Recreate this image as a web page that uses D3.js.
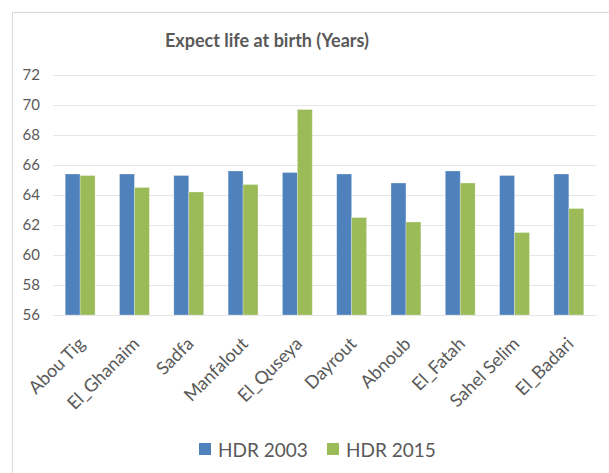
<!DOCTYPE html>
<html>
<head>
<meta charset="utf-8">
<script src="https://cdn.jsdelivr.net/npm/d3@7"></script>
<style>
  body { margin: 0; background: #fff; }
  svg text { font-family: Lato, 'Open Sans', sans-serif; fill: #595959; }
</style>
</head>
<body>
<div id="chart"></div>
<script>
// chart data
const categories = ['Abou Tig', 'El_Ghanaim', 'Sadfa', 'Manfalout', 'El_Quseya',
  'Dayrout', 'Abnoub', 'El_Fatah', 'Sahel Selim', 'El_Badari'];
const seriesNames = ['HDR 2003', 'HDR 2015'];
const hdr2003 = [65.4, 65.4, 65.3, 65.6, 65.5, 65.4, 64.8, 65.6, 65.3, 65.4];
const hdr2015 = [65.3, 64.5, 64.2, 64.7, 69.7, 62.5, 62.2, 64.8, 61.5, 63.1];
const yTicks = [56, 58, 60, 62, 64, 66, 68, 70, 72];

const colors = ['#4f81bd', '#9bbb59'];
const width = 609, height = 473;
const plot = { left: 53, right: 596, top: 75, bottom: 315 };

const svg = d3.select('#chart').append('svg')
  .attr('width', width)
  .attr('height', height);

// chart frame
svg.append('rect')
  .attr('x', 12.5).attr('y', 12.5)
  .attr('width', 620).attr('height', 480)
  .attr('fill', '#fff')
  .attr('stroke', '#d9d9d9');

// title
svg.append('text')
  .attr('x', 267).attr('y', 47)
  .attr('text-anchor', 'middle')
  .style('font-size', '18px')
  .style('font-weight', 'bold')
  .text('Expect life at birth (Years)');

const x = d3.scaleBand()
  .domain(categories)
  .range([plot.left, plot.right])
  .paddingInner(0.45)
  .paddingOuter(0.225);

const xSub = d3.scaleBand()
  .domain(seriesNames)
  .range([0, x.bandwidth()]);

const y = d3.scaleLinear()
  .domain([56, 72])
  .range([plot.bottom, plot.top]);

// gridlines + y labels
const yAxis = svg.append('g')
  .attr('transform', `translate(${plot.left},0)`)
  .call(d3.axisLeft(y).tickValues(yTicks).tickSize(-(plot.right - plot.left)).tickPadding(13));
yAxis.select('.domain').remove();
yAxis.selectAll('.tick line').attr('stroke', '#e6e6e6').attr('stroke-width', 1.2);
yAxis.selectAll('.tick text').style('font-size', '15px').style('font-family', 'Lato, sans-serif').attr('fill', '#595959');

// bars
const rows = categories.map((c, i) => ({ name: c, 'HDR 2003': hdr2003[i], 'HDR 2015': hdr2015[i] }));
svg.append('g')
  .selectAll('g')
  .data(rows)
  .join('g')
  .attr('transform', d => `translate(${x(d.name)},0)`)
  .selectAll('rect')
  .data(d => seriesNames.map(k => ({ key: k, value: d[k] })))
  .join('rect')
  .attr('x', d => xSub(d.key))
  .attr('y', d => y(d.value))
  .attr('width', xSub.bandwidth())
  .attr('height', d => y(56) - y(d.value))
  .attr('fill', (d, i) => colors[i])
  .attr('stroke', 'rgba(255,255,255,0.35)')
  .attr('stroke-width', 0.8);

// x labels
const xAxis = svg.append('g')
  .attr('transform', `translate(0,${plot.bottom})`)
  .call(d3.axisBottom(x).tickSize(0).tickPadding(0));
xAxis.select('.domain').attr('stroke', '#e6e6e6').attr('stroke-width', 1.2);
xAxis.selectAll('.tick text')
  .style('font-size', '18px')
  .style('font-family', 'Lato, sans-serif')
  .attr('fill', '#595959')
  .attr('text-anchor', 'end')
  .attr('y', 0)
  .attr('dy', 0)
  .attr('transform', 'translate(6,30) rotate(-45)');

// legend
const legend = svg.append('g').attr('transform', 'translate(199,443)');
const legendX = [0, 128];
seriesNames.forEach((s, i) => {
  const g = legend.append('g').attr('transform', `translate(${legendX[i]},0)`);
  g.append('rect').attr('width', 12).attr('height', 12).attr('fill', colors[i]);
  g.append('text')
    .attr('x', 19).attr('y', 14)
    .style('font-size', '19px')
    .text(s);
});
</script>
</body>
</html>
